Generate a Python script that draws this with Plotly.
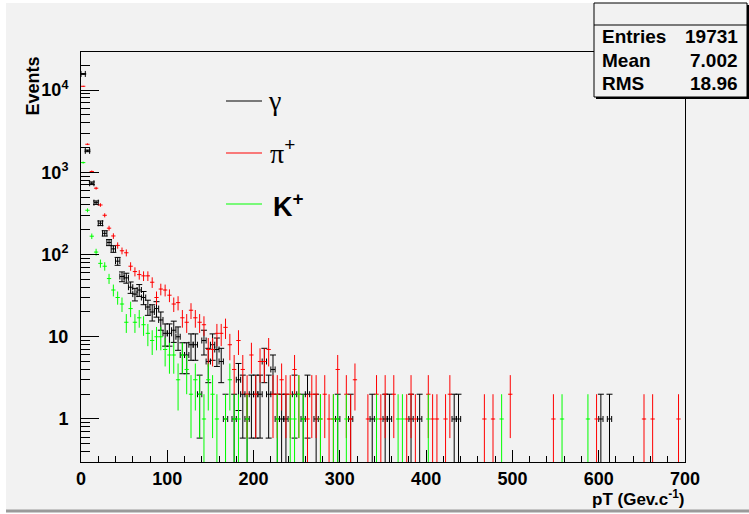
import numpy as np
import plotly.graph_objects as go

# ---------------- data (counts per 5 GeV bin, 0..700 GeV) ----------------
bin_width = 5.0
n_bins = 140

gamma_head = [15670, 1820, 735, 427, 240, 181, 140, 117, 83, 54, 52, 40, 33, 37,
              30, 23, 20, 22, 16, 11, 11, 12, 10, 6, 6, 8, 8, 2, 9, 5, 8, 7, 5, 1,
              0, 1, 3, 2, 1, 2, 2, 2, 5, 2, 4]
gamma_tail = {45: 1, 46: 1, 47: 1, 49: 2, 51: 1, 52: 2, 54: 1, 59: 1, 62: 1, 67: 1,
              70: 1, 71: 1, 76: 1, 78: 1, 86: 1, 87: 1, 120: 1, 122: 1}

pi_head = [11100, 2190, 1020, 640, 400, 300, 209, 168, 129, 111, 105, 72, 62, 57,
           55, 55, 46, 30, 38, 37, 32, 25, 26, 17, 15, 21, 17, 15, 14, 7, 7, 11, 11,
           13, 8, 4, 9, 4, 2, 6, 2, 5, 5, 7]
pi_tail = {44: 2, 45: 2, 46: 3, 47: 2, 48: 2, 49: 4, 50: 2, 52: 1, 53: 2, 54: 2,
           55: 1, 56: 2, 57: 1, 58: 1, 59: 4, 61: 2, 62: 1, 63: 3, 66: 1, 68: 2,
           69: 1, 70: 2, 72: 2, 75: 1, 76: 2, 77: 1, 80: 2, 81: 1, 82: 1, 84: 1,
           85: 2, 93: 1, 95: 1, 99: 2, 109: 1, 119: 1, 130: 1, 132: 1, 138: 1}

k_head = [1310, 345, 167, 107, 78, 72, 51, 37, 30, 25, 15, 22, 15, 17, 14, 11, 9,
          10, 10, 7, 6, 6, 3, 6, 4, 2, 3, 2, 1, 3, 2, 1, 0, 1, 3, 1, 1, 0, 1]
k_tail = {45: 1, 48: 1, 49: 1, 50: 2, 51: 1, 55: 1, 58: 1, 59: 1, 61: 1, 68: 1,
          73: 1, 74: 1, 80: 1, 97: 1, 111: 1, 117: 1}

stats_labels = ["Entries", "Mean", "RMS"]
stats_values = ["19731", "7.002", "18.96"]

x_ticks = [0, 100, 200, 300, 400, 500, 600, 700]
y_ticks = [1, 10, 100, 1000, 10000]
y_ticktext = ["1", "10", "10<sup>2</sup>", "10<sup>3</sup>", "10<sup>4</sup>"]


def full_counts(head, tail):
    c = np.zeros(n_bins)
    c[:len(head)] = head
    for k, v in tail.items():
        c[k] = v
    return c


centers = (np.arange(n_bins) + 0.5) * bin_width

# ---------------- geometry helpers (pixels -> paper) ----------------
W, H = 749, 514
L, R, T, B = 81, 685, 52, 462


def px(x):
    return (x - L) / (R - L)


def py(y):
    return (B - y) / (B - T)


fig = go.Figure()

series = [
    ("γ", full_counts(gamma_head, gamma_tail), "black", 3),
    ("π+", full_counts(pi_head, pi_tail), "#ff0000", 0),
    ("K+", full_counts(k_head, k_tail), "#00ff00", 0),
]
for name, counts, color, cap in series:
    m = counts > 0
    y = counts[m]
    err = np.sqrt(y)
    errm = np.minimum(err, y * 0.999)
    fig.add_trace(go.Scatter(
        x=centers[m], y=y, mode="markers", name=name,
        marker=dict(size=1, color=color),
        error_y=dict(type="data", array=err, arrayminus=errm, symmetric=False,
                     color=color, thickness=1, width=cap),
        error_x=dict(type="constant", value=bin_width / 2, color=color,
                     thickness=1, width=cap),
        showlegend=False, hoverinfo="skip",
    ))

SANS = "Liberation Sans, Arial, sans-serif"
tickf = dict(family=SANS, size=18, color="black", weight="bold")
statf = dict(family=SANS, size=19, color="black", weight="bold")
titlef = dict(family=SANS, size=18, color="black", weight="bold")

fig.update_xaxes(
    range=[0, 700], showline=True, linecolor="black", linewidth=1, mirror=True,
    ticks="inside", ticklen=12, tickwidth=1, tickcolor="black",
    tickvals=x_ticks, ticktext=[str(v) for v in x_ticks],
    minor=dict(ticks="inside", ticklen=6, tickwidth=1, tickcolor="black",
               tickvals=list(range(0, 701, 20))),
    showgrid=False, zeroline=False, tickfont=tickf, ticklabelstandoff=0,
)
y_minor = [m * 10 ** d for d in range(-1, 5) for m in range(2, 10)]
fig.update_yaxes(
    type="log", range=[np.log10(0.3), 4.462], showline=True, linecolor="black",
    linewidth=1, mirror=True,
    ticks="inside", ticklen=18, tickwidth=1, tickcolor="black",
    tickvals=y_ticks, ticktext=y_ticktext,
    minor=dict(ticks="inside", ticklen=9, tickwidth=1, tickcolor="black",
               tickvals=y_minor),
    showgrid=False, zeroline=False, tickfont=tickf, ticklabelstandoff=8,
)

shapes = []
# canvas
shapes.append(dict(type="rect", xref="paper", yref="paper", x0=px(6), x1=px(749),
                   y0=py(3), y1=py(510), fillcolor="#f2f2f2", line=dict(width=0),
                   layer="below"))
shapes.append(dict(type="line", xref="paper", yref="paper", x0=px(6), x1=px(749),
                   y0=py(511), y1=py(511), line=dict(color="#9a9a9a", width=3),
                   layer="below"))
# stats box shadow + box
shapes.append(dict(type="rect", xref="paper", yref="paper", x0=px(596), x1=px(749),
                   y0=py(5), y1=py(99), fillcolor="black", line=dict(width=0)))
shapes.append(dict(type="rect", xref="paper", yref="paper", x0=px(594), x1=px(747),
                   y0=py(3), y1=py(97), fillcolor="#f2f2f2",
                   line=dict(color="black", width=1)))
shapes.append(dict(type="line", xref="paper", yref="paper", x0=px(594), x1=px(747),
                   y0=py(25), y1=py(25), line=dict(color="black", width=1)))
# legend lines
for yy, col in [(101, "black"), (153, "#ff0000"), (204, "#00ff00")]:
    shapes.append(dict(type="line", xref="paper", yref="paper", x0=px(226),
                       x1=px(262), y0=py(yy), y1=py(yy),
                       line=dict(color=col, width=1)))

ann = []
for i, (lab, val) in enumerate(zip(stats_labels, stats_values)):
    yy = 37 + i * 23.5
    ann.append(dict(text=lab, x=px(600), y=py(yy), xref="paper", yref="paper",
                    xanchor="left", yanchor="middle", showarrow=False, font=statf))
    ann.append(dict(text=val, x=px(740), y=py(yy), xref="paper", yref="paper",
                    xanchor="right", yanchor="middle", showarrow=False, font=statf))

serif = dict(family="Liberation Serif, serif", size=28, color="black")
ann.append(dict(text="γ", x=px(266), y=py(100), xref="paper", yref="paper",
                xanchor="left", yanchor="middle", showarrow=False, font=serif))
ann.append(dict(text="π<sup><b>+</b></sup>", x=px(268), y=py(151), xref="paper",
                yref="paper", xanchor="left", yanchor="middle", showarrow=False,
                font=serif))
ann.append(dict(text="K<sup>+</sup>", x=px(271), y=py(205), xref="paper",
                yref="paper", xanchor="left", yanchor="middle", showarrow=False,
                font=dict(family=SANS, size=27, color="black", weight="bold")))
ann.append(dict(text="Events", x=px(32), y=py(55), xref="paper", yref="paper",
                xanchor="center", yanchor="top", textangle=-90, showarrow=False,
                font=titlef))
ann.append(dict(text="pT (Gev.c<sup>-1</sup>)", x=px(686), y=py(511),
                xref="paper", yref="paper", xanchor="right", yanchor="bottom",
                showarrow=False, font=dict(family=SANS, size=17, color="black",
                                           weight="bold")))

fig.update_layout(
    width=W, height=H, margin=dict(l=L, r=W - R, t=T, b=H - B),
    paper_bgcolor="white", plot_bgcolor="rgba(0,0,0,0)",
    shapes=shapes, annotations=ann, showlegend=False,
)

fig.write_html("out.html")
